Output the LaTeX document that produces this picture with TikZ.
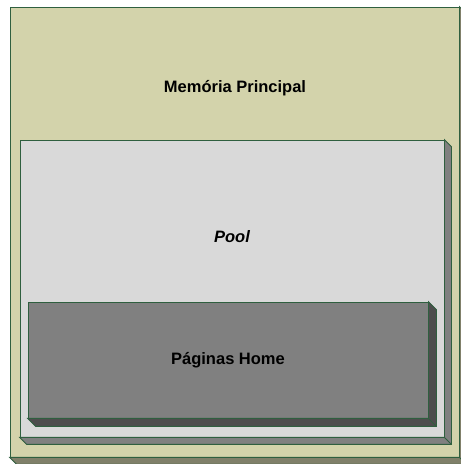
\documentclass[tikz,border=0pt]{standalone}
\usepackage{fontspec}
\setmainfont{Liberation Sans}
\usetikzlibrary{calc}

\definecolor{borda}{HTML}{2F5F3F}
\definecolor{oliva}{HTML}{D3D3AB}
\definecolor{olivaesc}{HTML}{80806A}
\definecolor{cinzaclaro}{HTML}{D9D9D9}
\definecolor{cinza}{HTML}{808080}
\definecolor{cinzaesc}{HTML}{4D4D4D}

% bloco com profundidade (lado direito e fundo)
\newcommand{\profundidade}[3]{%
  \filldraw[fill=#3, draw=borda, line width=0.8pt, line join=miter]
    (#1.north east) -- ++(#2,-#2) -- ($(#1.south east)+(#2,-#2)$)
    -- ($(#1.south west)+(#2,-#2)$) -- (#1.south west) -- (#1.south east) -- cycle;
  \draw[borda, line width=0.8pt] (#1.south east) -- ++(#2,-#2);
}

\begin{document}
\begin{tikzpicture}[
    x=1pt, y=1pt,
    bloco/.style={rectangle, draw=borda, line width=0.8pt, inner sep=0pt},
    rotulo/.style={font=\fontsize{16.5}{19}\selectfont\bfseries, text=black}
  ]
    \useasboundingbox (0,0) rectangle (461,464);

    %--- Memoria principal ---
    \node[bloco, fill=oliva, minimum width=449pt, minimum height=450pt]
      (mem) at (234.5,232) {};
    \profundidade{mem}{7}{olivaesc}

    %--- Pool ---
    \node[bloco, fill=cinzaclaro, minimum width=424pt, minimum height=297pt]
      (pool) at (232,175.5) {};
    \profundidade{pool}{7}{cinza}

    %--- Paginas Home ---
    \node[bloco, fill=cinza, minimum width=400pt, minimum height=116pt]
      (home) at (228,104) {};
    \profundidade{home}{8}{cinzaesc}

    %--- Rotulos ---
    \node[rotulo] (tmem)  at (235,376) {Memória Principal};
    \node[rotulo, font=\fontsize{16.5}{19}\selectfont\bfseries\itshape]
      (tpool) at (232,227) {Pool};
    \node[rotulo] (thome) at (228,104) {Páginas Home};
\end{tikzpicture}
\end{document}
